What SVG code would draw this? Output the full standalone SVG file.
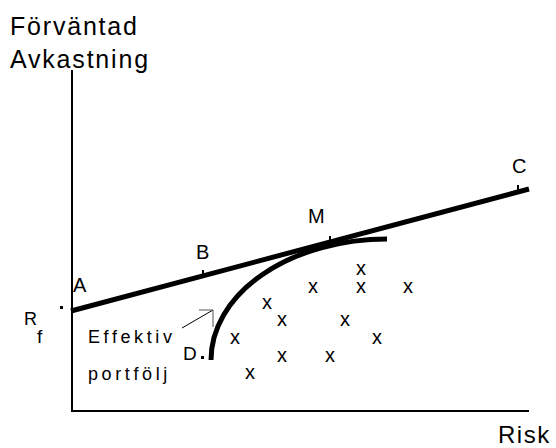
<svg xmlns="http://www.w3.org/2000/svg" width="556" height="448" viewBox="0 0 556 448">
<style>
text{font-family:"Liberation Sans",Arial,sans-serif;fill:#000}
.t{font-size:25px;letter-spacing:1.8px}
.l{font-size:20px}
.x{font-size:20px;text-anchor:middle}
.e{font-size:18px;letter-spacing:3.6px}
</style>
<rect width="556" height="448" fill="#fff"/>
<g id="axes" stroke="#000" stroke-width="2" fill="none">
<line x1="72" y1="70" x2="72" y2="411"/>
<line x1="71" y1="411" x2="529" y2="411"/>
</g>
<g id="labels">
<text class="t" x="498" y="443" style="font-size:24px;letter-spacing:1.5px">Risk</text>
<text class="t" x="10" y="35">Förväntad</text>
<text class="t" x="10" y="68">Avkastning</text>
<text class="l" x="24" y="325" style="font-size:18px">R</text>
<text class="l" x="37" y="343" style="font-size:19px">f</text>
<text class="l" x="73" y="292">A</text>
<text class="l" x="196" y="259">B</text>
<text class="l" x="308" y="223">M</text>
<text class="l" x="512" y="173">C</text>
<text class="l" x="183" y="360" style="font-size:19px">D</text>
<text class="e" x="88" y="343">Effektiv</text>
<text class="e" x="88" y="380">portfölj</text>
</g>
<g id="connectors" fill="none" stroke="#000">
<line x1="71" y1="311" x2="529" y2="189" stroke-width="5"/>
<path d="M211,360 A176,121 0 0 1 387,239" stroke-width="5"/>
<line x1="203" y1="270" x2="203" y2="274" stroke-width="2"/>
<line x1="330" y1="236" x2="330" y2="241" stroke-width="2"/>
<line x1="518" y1="185" x2="518" y2="190" stroke-width="2"/>
<line x1="182" y1="328" x2="213" y2="310" stroke-width="1"/>
<polyline points="199,310 213,310 213,327" stroke="#555" stroke-width="1"/>
</g>
<g id="dots" fill="#000">
<rect x="60" y="306" width="3" height="3"/>
<rect x="201" y="356" width="3" height="3"/>
</g>
<g id="points">
<text class="x" x="361" y="275">x</text>
<text class="x" x="313" y="293">x</text>
<text class="x" x="361" y="293">x</text>
<text class="x" x="408" y="293">x</text>
<text class="x" x="267" y="309">x</text>
<text class="x" x="282" y="326">x</text>
<text class="x" x="345" y="326">x</text>
<text class="x" x="235" y="344">x</text>
<text class="x" x="377" y="344">x</text>
<text class="x" x="282" y="362">x</text>
<text class="x" x="330" y="362">x</text>
<text class="x" x="250" y="379">x</text>
</g>
</svg>
